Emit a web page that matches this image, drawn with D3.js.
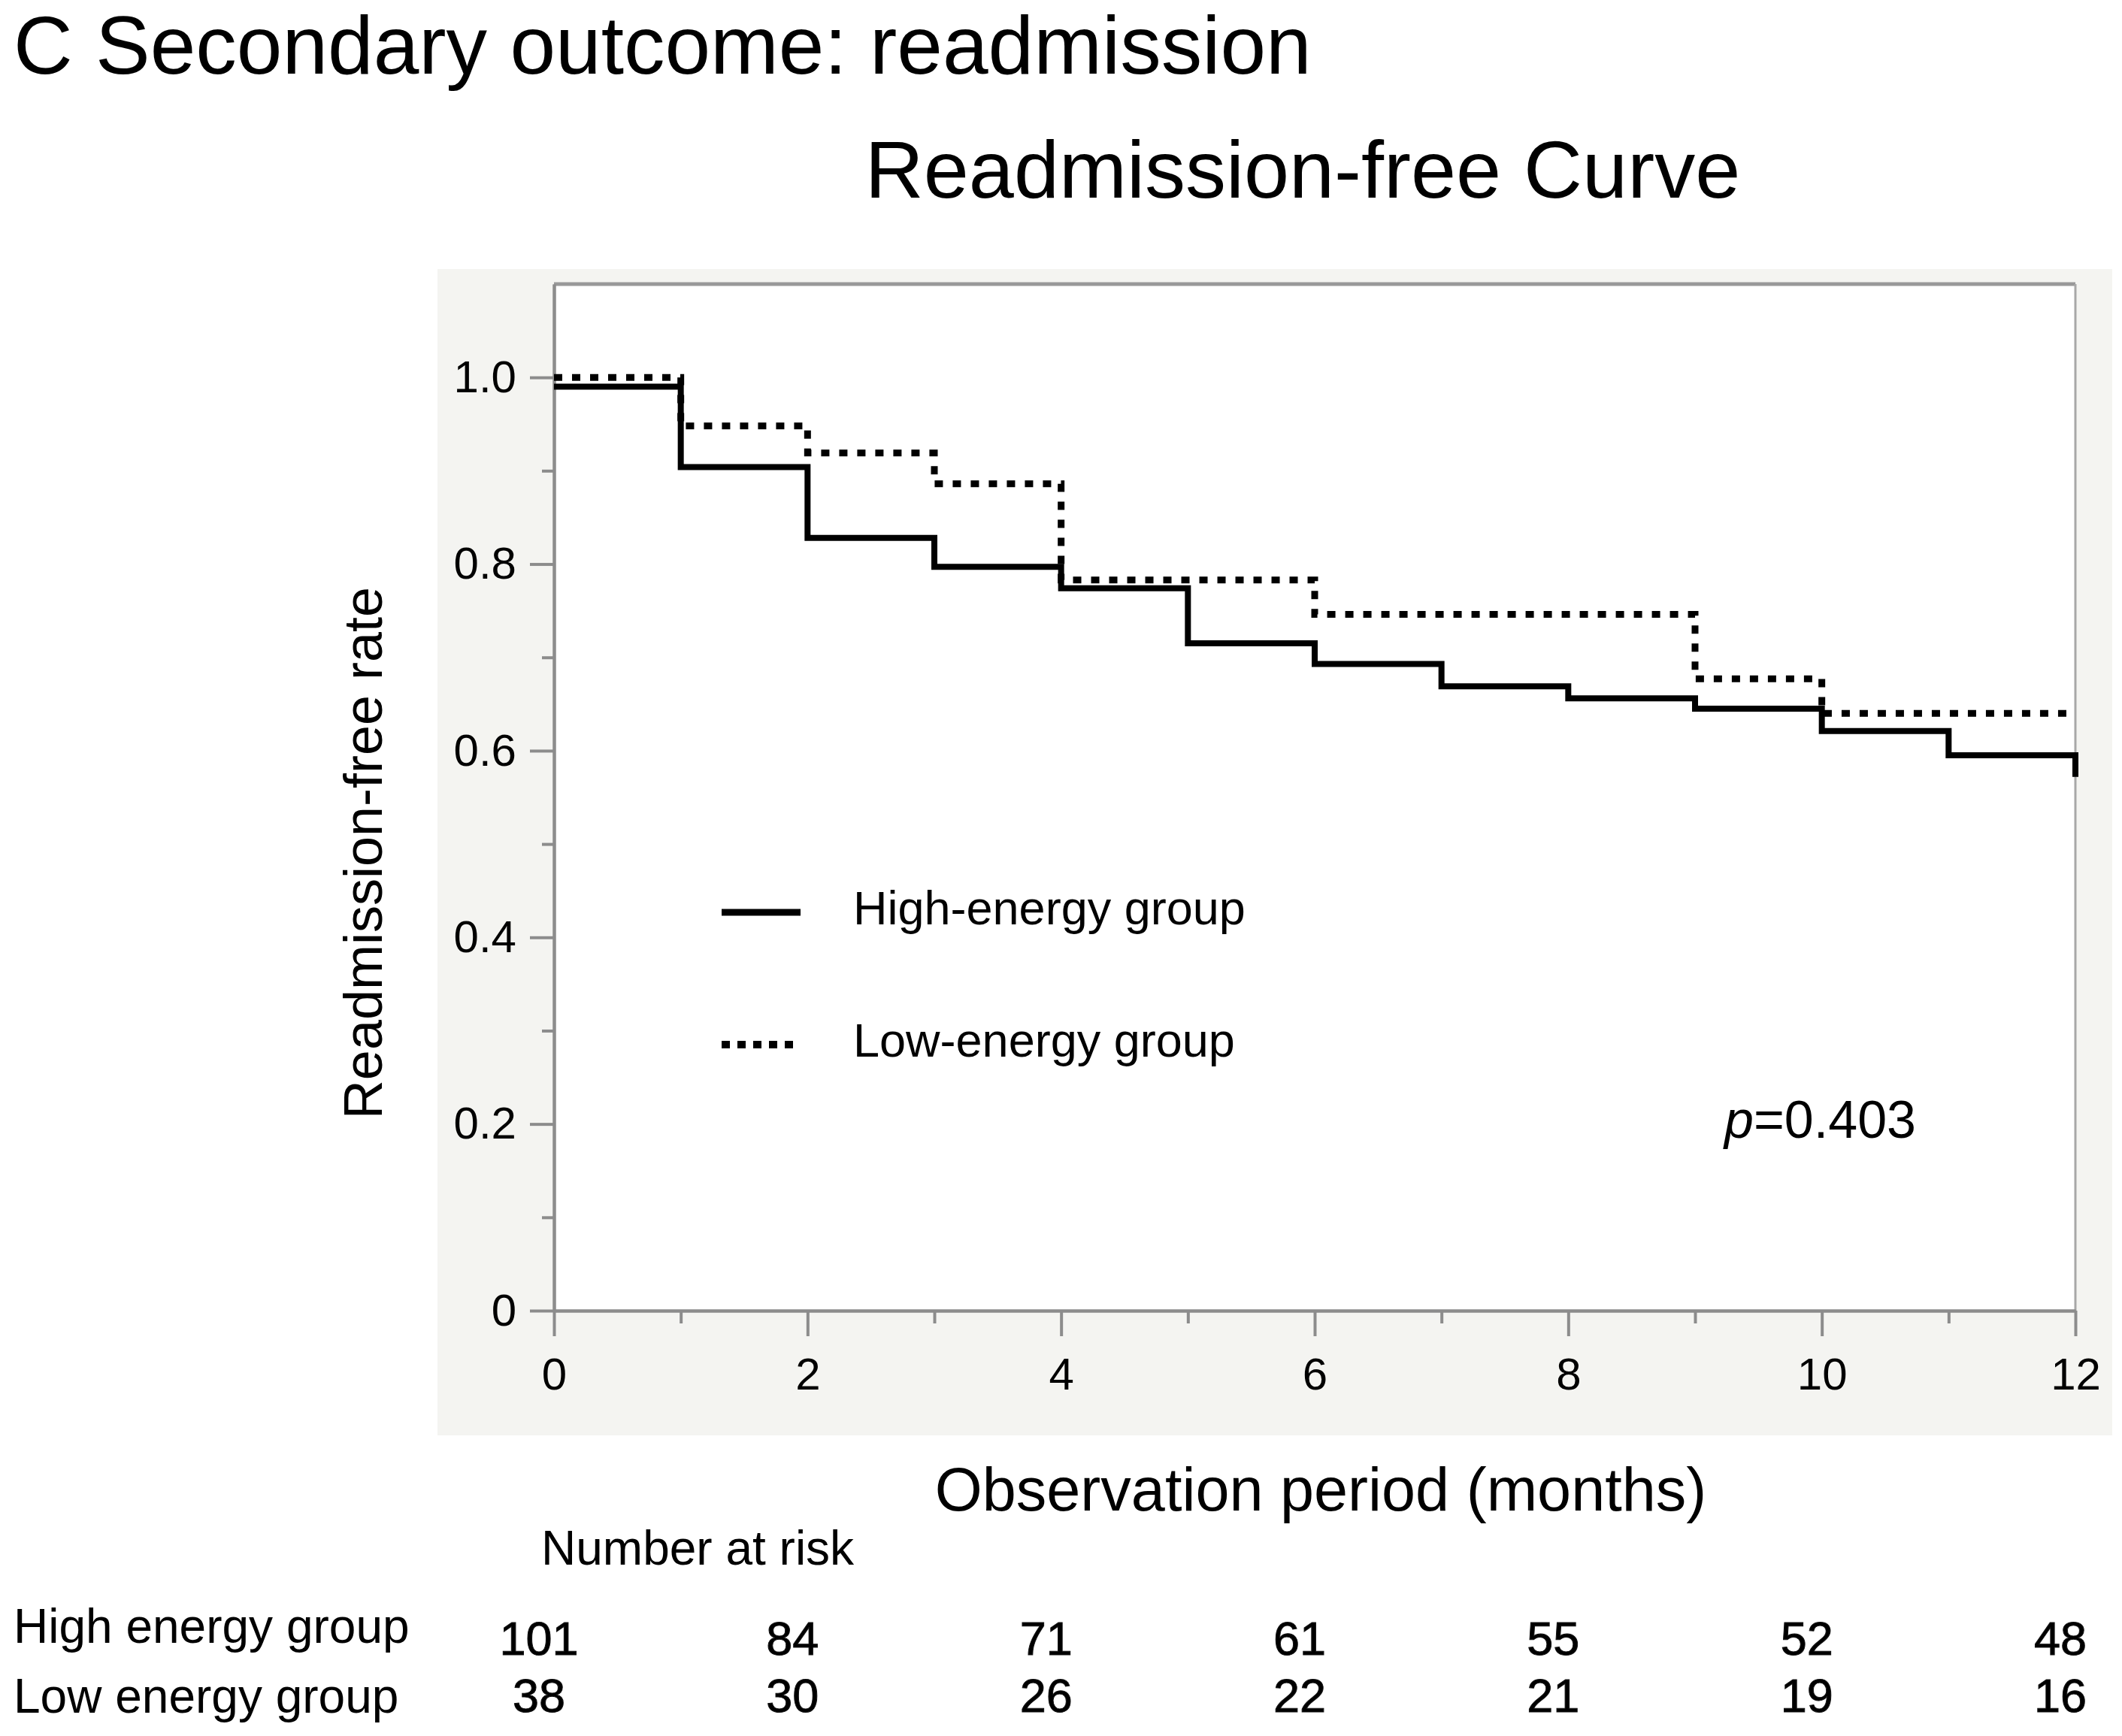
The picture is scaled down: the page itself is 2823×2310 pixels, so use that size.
<!DOCTYPE html>
<html>
<head>
<meta charset="utf-8">
<script src="https://cdn.jsdelivr.net/npm/d3@7"></script>
<style>
  body { margin: 0; background: #fff; }
  text { font-family: "Liberation Sans", Arial, sans-serif; fill: #000; }
</style>
</head>
<body>
<script>
// Kaplan-Meier steps
const highTimes = [0, 1, 2, 3, 4, 5, 6, 7, 8, 9, 10, 11, 12];
const highSurv  = [0.99, 0.904, 0.828, 0.797, 0.774, 0.715, 0.693, 0.669, 0.656, 0.645, 0.621, 0.595, 0.572];
const lowTimes  = [0, 1, 2, 3, 4, 6, 9, 10, 12];
const lowSurv   = [1.0, 0.948, 0.919, 0.886, 0.783, 0.746, 0.677, 0.640, 0.640];

const riskMonths = [0, 2, 4, 6, 8, 10, 12];
const riskHigh = [101, 84, 71, 61, 55, 52, 48];
const riskLow  = [38, 30, 26, 22, 21, 19, 16];

const yMajor = [0, 0.2, 0.4, 0.6, 0.8, 1.0];
const yMinor = [0.1, 0.3, 0.5, 0.7, 0.9];
const xMajor = [0, 2, 4, 6, 8, 10, 12];
const xMinor = [1, 3, 5, 7, 9, 11];

const width = 2823, height = 2310;
const plotL = 737, plotR = 2761, plotT = 378, plotB = 1744;

const svg = d3.select("body").append("svg").attr("width", width).attr("height", height);

// titles
svg.append("text").attr("x", 18).attr("y", 98).attr("font-size", 109).text("C Secondary outcome: readmission");
svg.append("text").attr("x", 1733).attr("y", 263).attr("font-size", 108).attr("text-anchor", "middle").text("Readmission-free Curve");

// grey panel + white plot
svg.append("rect").attr("x", 582).attr("y", 358).attr("width", 2228).attr("height", 1552).attr("fill", "#f4f4f1");
svg.append("rect").attr("x", plotL).attr("y", plotT).attr("width", plotR - plotL).attr("height", plotB - plotT).attr("fill", "#fff");

const x = d3.scaleLinear().domain([0, 12]).range([plotL, plotR]);
const y = d3.scaleLinear().domain([0, 1.1]).range([plotB, plotT]);

// frame top/right
svg.append("line").attr("x1", plotL).attr("x2", plotR).attr("y1", plotT).attr("y2", plotT).attr("stroke", "#999").attr("stroke-width", 5);
svg.append("line").attr("x1", plotR).attr("x2", plotR).attr("y1", plotT).attr("y2", plotB).attr("stroke", "#a8a8a8").attr("stroke-width", 3);

function styleAxis(g) {
    g.select(".domain").attr("stroke", "#8c8c8c").attr("stroke-width", 4);
    g.selectAll(".tick line").attr("stroke", "#8c8c8c").attr("stroke-width", 4);
    g.selectAll(".tick text").attr("font-size", 60).attr("fill", "#000")
        .attr("font-family", "'Liberation Sans', Arial, sans-serif");
}

svg.append("g").attr("transform", `translate(${plotL},0)`)
    .call(d3.axisLeft(y).tickValues(yMinor).tickSize(16).tickFormat("").tickSizeOuter(0))
    .call(styleAxis);
svg.append("g").attr("transform", `translate(${plotL},0)`)
    .call(d3.axisLeft(y).tickValues(yMajor).tickSize(32).tickPadding(18).tickSizeOuter(0)
        .tickFormat(d => d === 0 ? "0" : d.toFixed(1)))
    .call(styleAxis);
svg.append("g").attr("transform", `translate(0,${plotB})`)
    .call(d3.axisBottom(x).tickValues(xMinor).tickSize(17).tickFormat("").tickSizeOuter(0))
    .call(styleAxis);
svg.append("g").attr("transform", `translate(0,${plotB})`)
    .call(d3.axisBottom(x).tickValues(xMajor).tickSize(34).tickPadding(28).tickSizeOuter(0).tickFormat(d3.format("d")))
    .call(styleAxis);

// axis titles
svg.append("text").attr("transform", "translate(508,1135) rotate(-90)").attr("text-anchor", "middle")
    .attr("font-size", 72).text("Readmission-free rate");
svg.append("text").attr("x", 1757).attr("y", 2010).attr("text-anchor", "middle")
    .attr("font-size", 81).text("Observation period (months)");

// curves
const line = d3.line().x(d => x(d[0])).y(d => y(d[1])).curve(d3.curveStepAfter);
svg.append("path").datum(d3.zip(highTimes, highSurv)).attr("d", line)
    .attr("fill", "none").attr("stroke", "#000").attr("stroke-width", 8);
svg.append("path").datum(d3.zip(lowTimes, lowSurv)).attr("d", line)
    .attr("fill", "none").attr("stroke", "#000").attr("stroke-width", 9).attr("stroke-dasharray", "11,13");

// legend
svg.append("line").attr("x1", 960).attr("x2", 1065).attr("y1", 1214).attr("y2", 1214).attr("stroke", "#000").attr("stroke-width", 9);
svg.append("line").attr("x1", 960).attr("x2", 1060).attr("y1", 1390).attr("y2", 1390).attr("stroke", "#000").attr("stroke-width", 10).attr("stroke-dasharray", "11,10");
svg.append("text").attr("x", 1135).attr("y", 1230).attr("font-size", 63).text("High-energy group");
svg.append("text").attr("x", 1135).attr("y", 1406).attr("font-size", 63).text("Low-energy group");

const p = svg.append("text").attr("x", 2294).attr("y", 1514).attr("font-size", 70);
p.append("tspan").attr("font-style", "italic").text("p");
p.append("tspan").text("=0.403");

// number at risk
svg.append("text").attr("x", 720).attr("y", 2082).attr("font-size", 64).attr("fill", "#222").text("Number at risk");
svg.append("text").attr("x", 18).attr("y", 2186).attr("font-size", 64).text("High energy group");
svg.append("text").attr("x", 18).attr("y", 2279).attr("font-size", 64).text("Low energy group");

svg.selectAll(".riskHigh").data(riskHigh).enter().append("text")
    .attr("x", (d, i) => x(riskMonths[i]) - 20).attr("y", 2202)
    .attr("text-anchor", "middle").attr("font-size", 63).attr("fill", "#111")
    .attr("stroke", "#111").attr("stroke-width", 1).text(d => d);
svg.selectAll(".riskLow").data(riskLow).enter().append("text")
    .attr("x", (d, i) => x(riskMonths[i]) - 20).attr("y", 2278)
    .attr("text-anchor", "middle").attr("font-size", 63).attr("fill", "#111")
    .attr("stroke", "#111").attr("stroke-width", 1).text(d => d);
</script>
</body>
</html>
